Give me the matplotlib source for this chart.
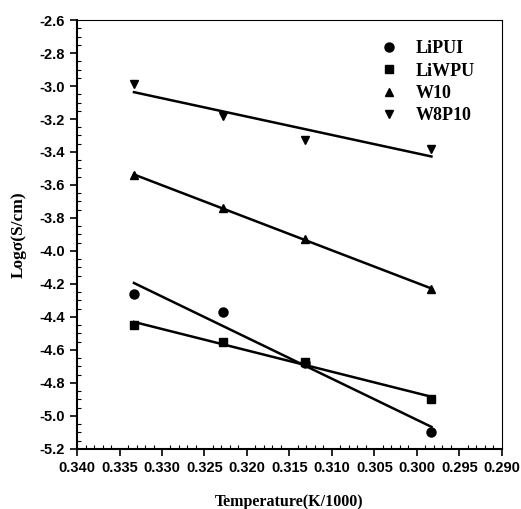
import numpy as np
import matplotlib
matplotlib.use("Agg")
import matplotlib.pyplot as plt
from matplotlib.ticker import MultipleLocator, FormatStrFormatter

# inverse temperature (K/1000) and log conductivity
x = [0.3333, 0.3228, 0.3132, 0.2983]
lipui = [-4.26, -4.37, -4.68, -5.10]
liwpu = [-4.45, -4.55, -4.67, -4.90]
w10 = [-3.54, -3.74, -3.93, -4.23]
w8p10 = [-2.99, -3.18, -3.33, -3.38]

series = [("LiPUI", lipui, "o", 6.5),
          ("LiWPU", liwpu, "s", 5.5),
          ("W10", w10, "^", 6),
          ("W8P10", w8p10, "v", 6)]

fig = plt.figure(figsize=(5.21, 5.09), dpi=100)
ax = fig.add_axes([0.1478, 0.1179, 0.8157, 0.8428])

xs = np.array(x)
for name, ys, m, ms in series:
    ax.plot(xs, ys, linestyle="none", marker=m, ms=ms, color="black", label=name)
    k, b = np.polyfit(xs, ys, 1)
    xx = np.array([xs.min(), xs.max()])
    ax.plot(xx, k * xx + b, color="black", lw=1.8)

ax.set_xlim(0.340, 0.290)
ax.set_ylim(-5.2, -2.6)
ax.xaxis.set_major_locator(MultipleLocator(0.005))
ax.xaxis.set_minor_locator(MultipleLocator(0.001))
ax.yaxis.set_major_locator(MultipleLocator(0.2))
ax.yaxis.set_minor_locator(MultipleLocator(0.05))
ax.xaxis.set_major_formatter(FormatStrFormatter("%.3f"))
ax.yaxis.set_major_formatter(FormatStrFormatter("%.1f"))

ax.tick_params(which="major", direction="out", length=5, width=1.2)
ax.tick_params(which="minor", direction="in", length=3, width=0.8)
ax.tick_params(labelsize=10.5)
for lab in ax.get_xticklabels() + ax.get_yticklabels():
    lab.set_fontfamily("Liberation Sans")
    lab.set_fontweight("bold")

for side in ["left", "bottom"]:
    ax.spines[side].set_linewidth(1.5)
for side in ["top", "right"]:
    ax.spines[side].set_linewidth(0.8)

ax.set_xlabel("Temperature(K/1000)", fontfamily="Liberation Serif",
              fontweight="bold", fontsize=11.5, labelpad=14)
ax.set_ylabel("Log\u03c3(S/cm)", fontfamily="Liberation Serif",
              fontweight="bold", fontsize=12.5, labelpad=9)

leg = ax.legend(loc="upper right", frameon=False, borderpad=0,
                handlelength=2.0, handletextpad=0.5, labelspacing=0.3,
                bbox_to_anchor=(0.937, 0.953), borderaxespad=0,
                prop={"family": "Liberation Serif", "weight": "bold", "size": 13})

fig.savefig("out.png", dpi=100)
